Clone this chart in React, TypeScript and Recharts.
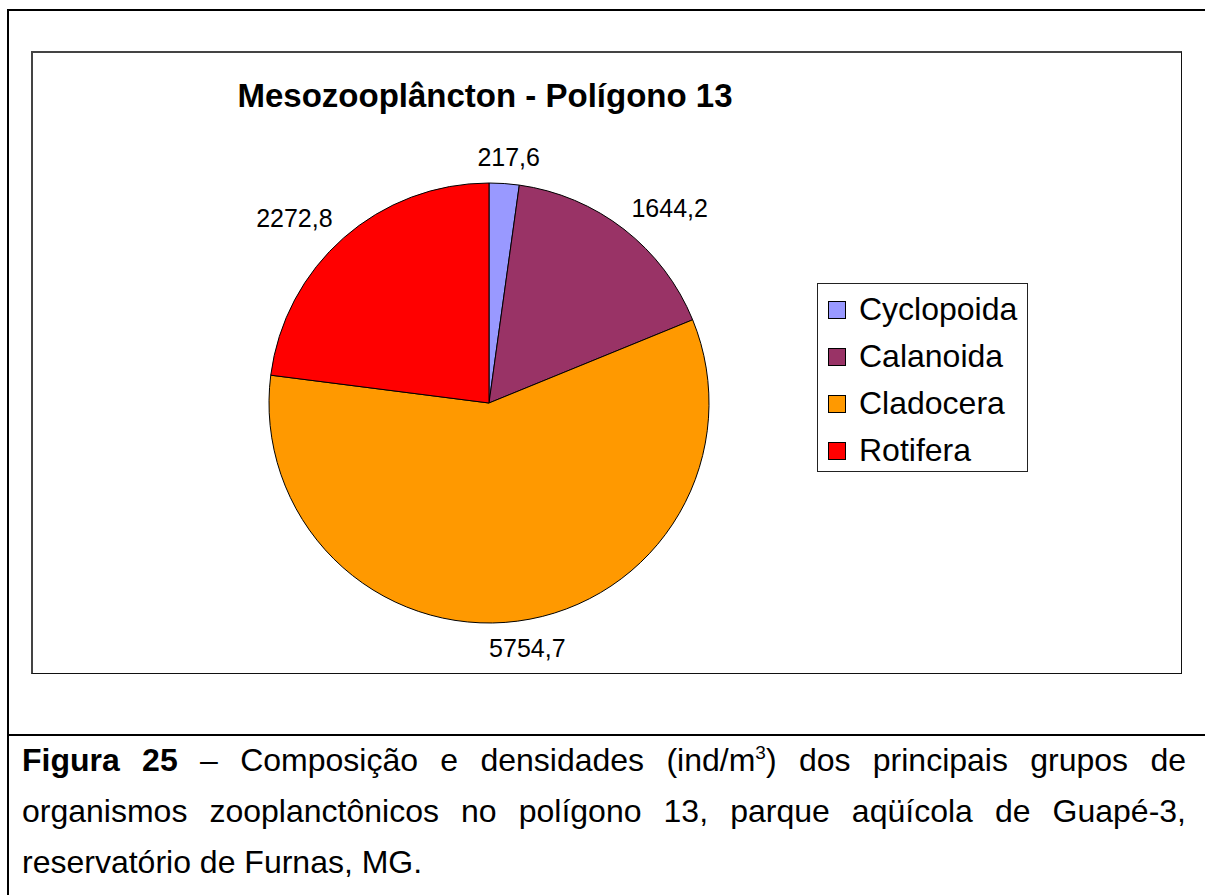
import { PieChart, Pie, Cell, Legend } from 'recharts';

// Grupos e densidades (ind/m3) — polígono 13
const GRUPOS = ['Cyclopoida', 'Calanoida', 'Cladocera', 'Rotifera'];
const DENSIDADES = [217.6, 1644.2, 5754.7, 2272.8];
const CORES = ['#9999FF', '#993366', '#FF9900', '#FF0000'];

const dados = GRUPOS.map((nome, i) => ({ nome, valor: DENSIDADES[i] }));

const FONTE = '"Liberation Sans", Arial, sans-serif';
const RAD = Math.PI / 180;

const formatar = (v: number) => v.toFixed(1).replace('.', ',');

// Rótulo fora da fatia, caixa encostada no ponto (como no Excel)
function Rotulo(props: any) {
  const { cx, cy, midAngle, outerRadius, value } = props;
  const cos = Math.cos(-midAngle * RAD);
  const sin = Math.sin(-midAngle * RAD);
  const r = outerRadius + 16;
  const texto = formatar(value);
  const w = texto.length * 13;
  const x = cx + r * cos + w * 0.75 * cos;
  const y = cy + r * sin + 11 * sin;
  return (
    <text x={x} y={y} textAnchor="middle" dominantBaseline="central" fill="#000" fontSize={25} fontFamily={FONTE}>
      {texto}
    </text>
  );
}

function Legenda() {
  return (
    <div style={{ border: '1px solid #222', width: 211, height: 189, boxSizing: 'border-box', padding: '2px 0 0 10px', background: '#fff' }}>
      {GRUPOS.map((g, i) => (
        <div key={g} style={{ display: 'flex', alignItems: 'center', height: 47, fontFamily: FONTE, fontSize: 32, color: '#000' }}>
          <span style={{ width: 16, height: 16, border: '1px solid #000', background: CORES[i], marginRight: 13, flexShrink: 0 }} />
          <span style={{ whiteSpace: 'nowrap' }}>{g}</span>
        </div>
      ))}
    </div>
  );
}

export default function App() {
  return (
    <div style={{ position: 'absolute', left: 0, top: 0, width: 1205, height: 895, background: '#fff', overflow: 'hidden' }}>
      {/* moldura externa */}
      <div style={{ position: 'absolute', left: 7, top: 9, width: 1198, height: 2, background: '#000' }} />
      <div style={{ position: 'absolute', left: 7, top: 9, width: 2, height: 886, background: '#000' }} />
      <div style={{ position: 'absolute', left: 7, top: 734, width: 1198, height: 2, background: '#000' }} />

      {/* área do gráfico */}
      <div style={{ position: 'absolute', left: 31, top: 51, width: 1151, height: 623, borderTop: '2px solid #444', borderLeft: '2px solid #444', borderRight: '1px solid #111', borderBottom: '1px solid #111', boxSizing: 'border-box' }} />

      <div style={{ position: 'absolute', left: 0, top: 77, width: 970, textAlign: 'center', fontFamily: FONTE, fontWeight: 'bold', fontSize: 33, color: '#000' }}>
        Mesozooplâncton - Polígono 13
      </div>

      <div style={{ position: 'absolute', left: 0, top: 0 }}>
        <PieChart width={1205} height={730} margin={{ top: 0, right: 0, bottom: 0, left: 0 }}>
          <Pie
            data={dados}
            dataKey="valor"
            nameKey="nome"
            cx={489}
            cy={403}
            outerRadius={220}
            startAngle={90}
            endAngle={-270}
            stroke="#000"
            strokeWidth={1}
            label={Rotulo}
            labelLine={false}
            isAnimationActive={false}
          >
            {dados.map((d, i) => (
              <Cell key={d.nome} fill={CORES[i]} />
            ))}
          </Pie>
          <Legend
            content={() => <Legenda />}
            wrapperStyle={{ position: 'absolute', left: 817, top: 283, width: 211, height: 189 }}
          />
        </PieChart>
      </div>

      {/* legenda da figura */}
      <div style={{ position: 'absolute', left: 22, top: 735, width: 1164, fontFamily: FONTE, fontSize: 32, lineHeight: '51px', color: '#000' }}>
        <div style={{ textAlign: 'justify', textAlignLast: 'justify' }}>
          <b>Figura 25</b> – Composição e densidades (ind/m<sup style={{ fontSize: 19, lineHeight: 0 }}>3</sup>) dos principais grupos de
        </div>
        <div style={{ textAlign: 'justify', textAlignLast: 'justify' }}>
          organismos zooplanctônicos no polígono 13, parque aqüícola de Guapé-3,
        </div>
        <div>reservatório de Furnas, MG.</div>
      </div>
    </div>
  );
}
